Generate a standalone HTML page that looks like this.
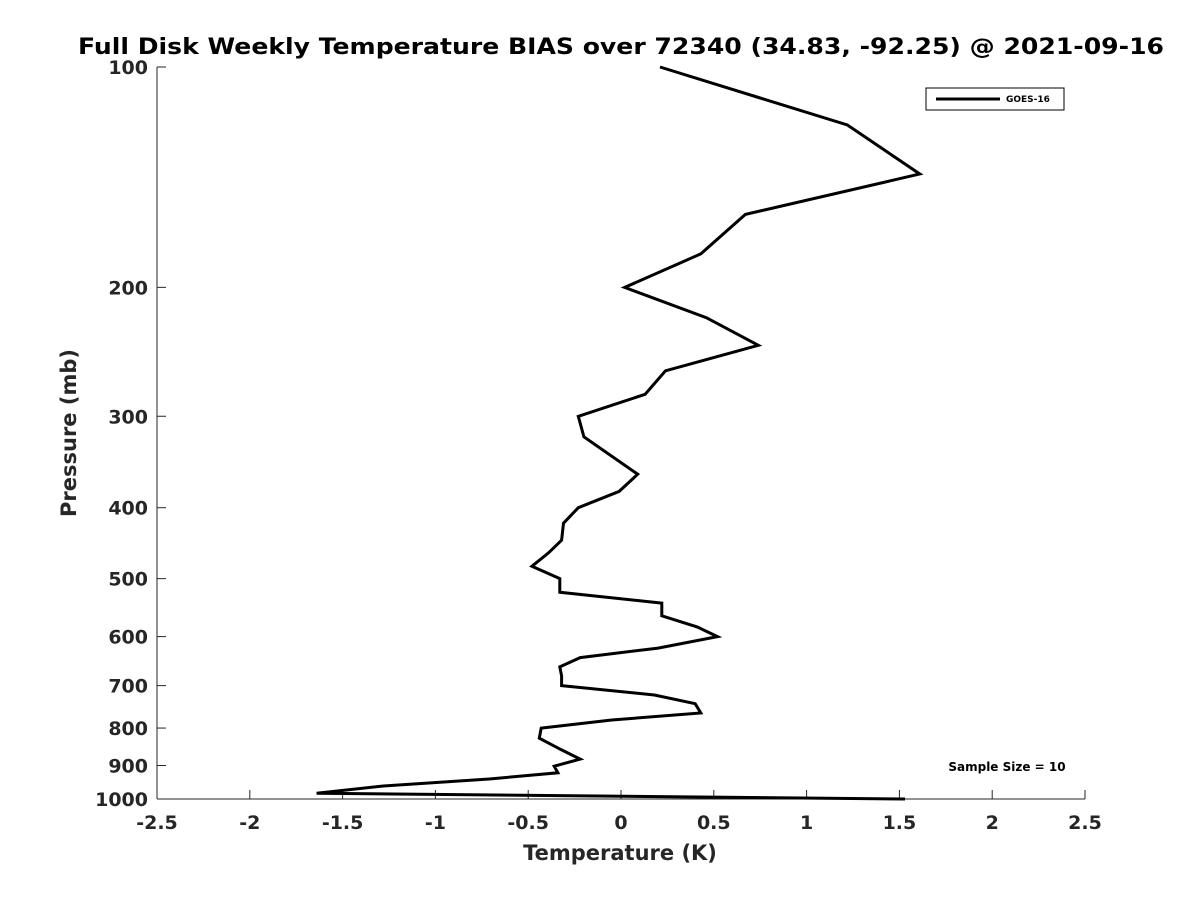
<!DOCTYPE html>
<html><head><meta charset="utf-8"><style>body{margin:0;background:#fff}svg{font-family:"DejaVu Sans","Liberation Sans",sans-serif}</style></head>
<body>
<svg id="chart" width="1200" height="900">
<rect width="1200" height="900" fill="#fff"/>
<text x="621" y="54" text-anchor="middle" font-size="22" font-weight="bold" textLength="1086" lengthAdjust="spacingAndGlyphs">Full Disk Weekly Temperature BIAS over 72340 (34.83, -92.25) @ 2021-09-16</text>
<g id="axes"></g>
<path id="line" fill="none" stroke="#000" stroke-width="3"/>
<g>
<rect x="926" y="88" width="138" height="22" fill="#fff" stroke="#000" stroke-width="1"/>
<line x1="936" y1="99" x2="1000" y2="99" stroke="#000" stroke-width="3"/>
<text x="1006" y="102" font-size="9" font-weight="bold">GOES-16</text>
</g>
<text x="1007" y="771" text-anchor="middle" font-size="12" font-weight="bold">Sample Size = 10</text>
<text x="620" y="860" text-anchor="middle" font-size="21" font-weight="bold" fill="#262626">Temperature (K)</text>
<text transform="translate(76,433) rotate(-90)" text-anchor="middle" font-size="21" font-weight="bold" fill="#262626">Pressure (mb)</text>
</svg>
<script>
const pressures=[100,120,140,159,180,200,220,240,260,280,300,320,360,380,400,420,443,461,481,500,522,540,562,582,600,622,641,660,679,700,721,741,763,780,800,826,857,882,902,921,939,960,982,1000];
const bias=[0.21,1.22,1.61,0.67,0.43,0.02,0.46,0.74,0.24,0.13,-0.23,-0.2,0.09,-0.01,-0.23,-0.31,-0.32,-0.39,-0.48,-0.33,-0.33,0.22,0.22,0.41,0.52,0.2,-0.22,-0.33,-0.32,-0.32,0.18,0.4,0.43,-0.05,-0.43,-0.44,-0.32,-0.22,-0.36,-0.34,-0.71,-1.28,-1.64,1.53];
const xTicks=[-2.5,-2,-1.5,-1,-0.5,0,0.5,1,1.5,2,2.5];
const yTicks=[100,200,300,400,500,600,700,800,900,1000];
const X0=157,X1=1085,Y0=67,Y1=799;
const xs=v=>X0+(v+2.5)/5*(X1-X0);
const ys=p=>Y0+Math.log10(p/100)*(Y1-Y0);
const ns='http://www.w3.org/2000/svg';
const ax=document.getElementById('axes');
function mk(t,a){const e=document.createElementNS(ns,t);for(const k in a)e.setAttribute(k,a[k]);ax.appendChild(e);return e;}
let e=mk('line',{x1:X0,y1:Y1,x2:X1,y2:Y1,stroke:'#262626','stroke-width':1});


e=mk('line',{x1:X0,y1:Y0,x2:X0,y2:Y1,stroke:'#262626','stroke-width':1});


xTicks.forEach(v=>{const x=xs(v);mk('line',{x1:x,y1:Y1,x2:x,y2:Y1-9,stroke:'#262626'});
const t=mk('text',{x:x,y:Y1+30,'text-anchor':'middle','font-size':19,'font-weight':'bold',fill:'#262626'});t.textContent=String(v);

});
yTicks.forEach(p=>{const y=ys(p);mk('line',{x1:X0,y1:y,x2:X0+9,y2:y,stroke:'#262626'});
const t=mk('text',{x:X0-9,y:y+7,'text-anchor':'end','font-size':19,'font-weight':'bold',fill:'#262626'});t.textContent=String(p);

});
document.getElementById('line').setAttribute('d',bias.map((v,i)=>(i?'L':'M')+xs(v).toFixed(1)+','+ys(pressures[i]).toFixed(1)).join(''));
</script>
</body></html>
